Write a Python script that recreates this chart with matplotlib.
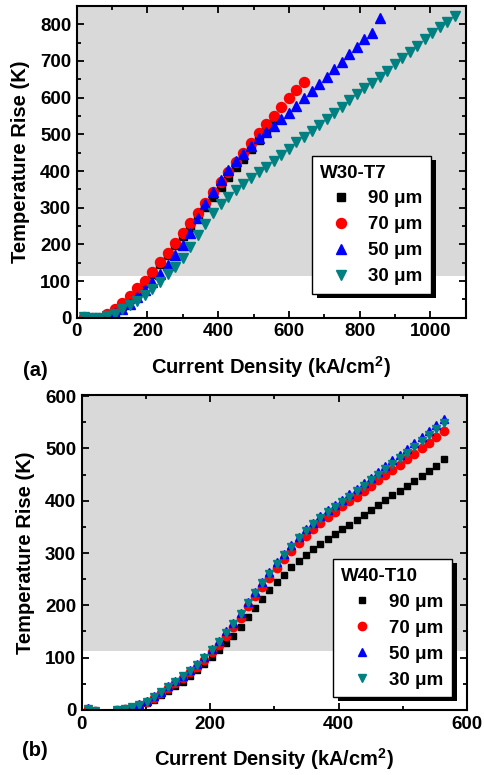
import matplotlib
matplotlib.use('Agg')
import matplotlib.pyplot as plt
from matplotlib.patches import Rectangle
from matplotlib.transforms import IdentityTransform
from matplotlib.ticker import MultipleLocator

plt.rcParams['font.family'] = ['Liberation Sans', 'DejaVu Sans']
plt.rcParams['font.weight'] = 'bold'
plt.rcParams['mathtext.fontset'] = 'custom'
plt.rcParams['mathtext.rm'] = 'Liberation Sans:bold'
plt.rcParams['mathtext.bf'] = 'Liberation Sans:bold'

# --- panel (a) W30-T7 data ---
J_a = [21, 43, 64, 86, 107, 128, 150, 171, 193, 214, 235, 257, 278, 300, 321,
       342, 364, 385, 407, 428, 450, 471, 492, 514, 535, 557, 578, 599, 621, 642,
       664, 685, 707, 728, 749, 771, 792, 813, 835, 856, 877, 899, 920, 942, 963,
       984, 1005, 1026, 1047, 1069]
T90_a = [3, 0, 0, 6, 18, 33, 52, 72, 95, 120, 146, 171, 197, 222, 248, 276, 303,
         330, 357, 383, 410, 434, 459, 484, 508, 542]
T70_a = [2, 0, 0, 9, 23, 39, 59, 80, 100, 124, 151, 176, 204, 232, 257, 285, 314,
         343, 369, 397, 424, 450, 476, 503, 527, 550, 575, 598, 621, 644]
T50_a = [3, 0, 0, 3, 12, 25, 38, 57, 77, 98, 119, 145, 171, 198, 232, 272, 310,
         344, 375, 403, 426, 446, 468, 489, 506, 523, 541, 559, 578, 598, 618, 637,
         657, 677, 697, 718, 737, 759, 777, 818]
T30_a = [2, 0, 0, 5, 11, 23, 34, 45, 61, 79, 97, 118, 139, 164, 192, 225, 255,
         285, 309, 330, 348, 365, 382, 396, 412, 427, 444, 461, 478, 494, 509, 525,
         542, 557, 574, 594, 609, 626, 641, 657, 674, 691, 707, 724, 742, 759, 776,
         794, 807, 823]

# --- panel (b) W40-T10 data ---
J_b = [10, 21, 33, 44, 55, 67, 78, 89, 101, 112, 123, 135, 146, 157, 169, 180,
       191, 203, 214, 225, 236, 248, 259, 270, 281, 292, 304, 315, 326, 338, 349,
       360, 371, 383, 394, 405, 417, 428, 439, 450, 462, 473, 484, 496, 507, 518,
       530, 541, 552, 564]
T90_b = [2, -1, -10, -10, 0, 2, 5, 9, 14, 20, 28, 37, 45, 54, 65, 76, 88, 101,
         115, 128, 142, 159, 177, 195, 212, 229, 244, 258, 273, 285, 297, 308, 318,
         327, 336, 346, 354, 364, 373, 382, 391, 401, 410, 419, 428, 438, 448, 456,
         467, 479]
T70_b = [2, -1, -10, -10, 0, 1, 4, 9, 15, 23, 32, 42, 52, 62, 72, 83, 96, 110,
         125, 142, 158, 176, 198, 217, 235, 253, 271, 288, 304, 319, 333, 346, 357,
         369, 379, 389, 399, 408, 419, 429, 439, 449, 459, 469, 479, 489, 500, 511,
         521, 533]
T50_b = [3, -1, -10, -10, 0, 2, 6, 11, 17, 26, 35, 45, 55, 65, 77, 88, 102, 117,
         132, 150, 166, 185, 207, 226, 245, 263, 282, 299, 315, 331, 345, 358, 370,
         382, 392, 402, 412, 422, 433, 444, 455, 466, 477, 488, 499, 510, 521, 533,
         544, 556]
T30_b = [2, -1, -10, -10, 0, 1, 5, 10, 16, 25, 34, 44, 54, 64, 75, 86, 100, 115,
         130, 148, 164, 183, 204, 223, 242, 260, 279, 296, 312, 328, 342, 355, 366,
         378, 388, 398, 408, 418, 428, 439, 450, 460, 471, 482, 492, 503, 514, 526,
         537, 549]

labels = ['90 \u03bcm', '70 \u03bcm', '50 \u03bcm', '30 \u03bcm']
colors = ['black', '#ff0000', '#0000ff', '#008080']
markers = ['s', 'o', '^', 'v']
gray_from = 115

fig = plt.figure(figsize=(4.84, 7.75), dpi=100)
ax_a = fig.add_axes([0.1585, 0.590, 0.804, 0.4023])
ax_b = fig.add_axes([0.1688, 0.0839, 0.796, 0.4064])


def style_axes(ax):
    for s in ax.spines.values():
        s.set_linewidth(1.5)
    ax.tick_params(which='both', direction='in', top=True, right=True, width=1.3,
                   labelsize=13.5, pad=4)
    ax.tick_params(which='major', length=5)
    ax.tick_params(which='minor', length=3)
    ax.set_xlabel('Current Density (kA/cm$^{2}$)', fontsize=14.5, fontweight='bold', labelpad=10)
    ax.set_ylabel('Temperature Rise (K)', fontsize=14.5, fontweight='bold', labelpad=7)


def add_legend(ax, title, anchor):
    leg = ax.legend(title=title, loc='lower right', bbox_to_anchor=anchor,
                    borderaxespad=0, alignment='left', fancybox=False,
                    edgecolor='black', framealpha=1, fontsize=13.5,
                    title_fontsize=13.5, handlelength=2.2, handletextpad=0.35,
                    labelspacing=0.47, borderpad=0.45, numpoints=1)
    leg.get_frame().set_linewidth(1.0)
    return leg


# panel (a)
series_a = [T90_a, T70_a, T50_a, T30_a]
ax_a.axhspan(gray_from, 850, color='#d9d9d9', zorder=0, lw=0)
for ys, lab, c, m in zip(series_a, labels, colors, markers):
    ms = 6 if m == 's' else 7.2
    ax_a.plot(J_a[:len(ys)], ys, linestyle='none', marker=m, ms=ms, color=c,
              mec=c, label=lab)
ax_a.set_xlim(0, 1100)
ax_a.set_ylim(0, 850)
ax_a.xaxis.set_major_locator(MultipleLocator(200))
ax_a.xaxis.set_minor_locator(MultipleLocator(100))
ax_a.yaxis.set_major_locator(MultipleLocator(100))
ax_a.yaxis.set_minor_locator(MultipleLocator(50))
style_axes(ax_a)
leg_a = add_legend(ax_a, 'W30-T7', (0.910, 0.077))

# panel (b)
series_b = [T90_b, T70_b, T50_b, T30_b]
ax_b.axhspan(gray_from - 3, 605, color='#d9d9d9', zorder=0, lw=0)
for ys, lab, c, m in zip(series_b, labels, colors, markers):
    ms = 5 if m == 's' else 6
    ax_b.plot(J_b, ys, linestyle='none', marker=m, ms=ms, color=c, mec=c, label=lab)
ax_b.set_xlim(0, 600)
ax_b.set_ylim(0, 602)
ax_b.xaxis.set_major_locator(MultipleLocator(200))
ax_b.xaxis.set_minor_locator(MultipleLocator(100))
ax_b.yaxis.set_major_locator(MultipleLocator(100))
ax_b.yaxis.set_minor_locator(MultipleLocator(50))
style_axes(ax_b)
leg_b = add_legend(ax_b, 'W40-T10', (0.961, 0.041))

fig.text(23 / 484, 1 - 370 / 775, '(a)', fontsize=14.5, fontweight='bold', va='center')
fig.text(22 / 484, 1 - 751 / 775, '(b)', fontsize=14.5, fontweight='bold', va='center')

# black drop shadow behind each legend box
fig.canvas.draw()
for ax, leg in [(ax_a, leg_a), (ax_b, leg_b)]:
    bb = leg.get_window_extent()
    shadow = Rectangle((bb.x0 + 5, bb.y0 - 4), bb.width, bb.height,
                       transform=IdentityTransform(), fc='black', ec='none',
                       zorder=4.9, clip_on=False)
    ax.add_artist(shadow)

fig.savefig('out.png', dpi=100)
